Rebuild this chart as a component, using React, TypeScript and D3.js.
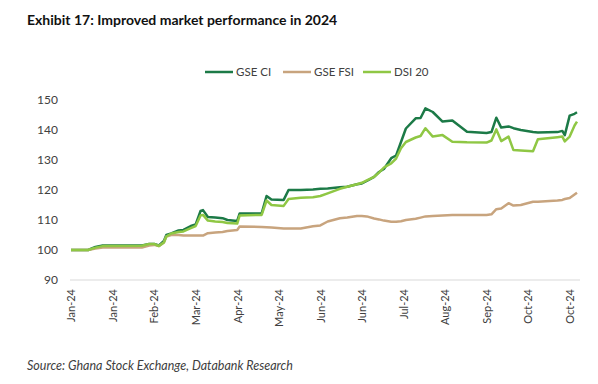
import { useEffect, useRef } from 'react';
import * as d3 from 'd3';

// trading-day index of each sample
const days = [0, 7, 10, 13, 29, 32, 34, 36, 38, 39, 41, 44, 46, 49, 51, 53, 54, 56, 59, 62, 64, 68, 69, 78, 80, 82, 87, 89, 94, 99, 102, 105, 110, 113, 117, 119, 121, 124, 126, 128, 131, 133, 135, 137, 141, 143, 145, 148, 152, 156, 162, 170, 172, 174, 176, 179, 181, 184, 189, 191, 199, 201, 202, 204, 206, 207];

const gseCi = [100, 100, 101, 101.5, 101.5, 102, 102, 101.5, 103, 105, 105.5, 106.5, 106.7, 108, 108.5, 113, 113.3, 111, 110.8, 110.6, 110, 109.7, 112.2, 112.2, 118, 116.8, 116.7, 120, 120, 120.2, 120.4, 120.5, 120.9, 121.1, 121.9, 122.2, 123, 124.4, 126, 127, 130.6, 131.5, 136, 140.5, 143.9, 144, 147.2, 146, 142.8, 143.2, 139.4, 139, 139.3, 144.1, 140.8, 141.2, 140.6, 140, 139.3, 139.2, 139.3, 139.7, 138.3, 144.8, 145.4, 145.9];

const gseFsi = [100, 100, 100.5, 100.8, 100.8, 101.5, 101.7, 101.3, 102.5, 104.5, 105, 105, 104.8, 104.8, 104.8, 104.8, 104.8, 105.6, 105.8, 106, 106.3, 106.7, 107.8, 107.7, 107.6, 107.5, 107.2, 107.2, 107.2, 107.9, 108.2, 109.5, 110.6, 110.8, 111.3, 111.3, 111.2, 110.5, 110.2, 109.8, 109.4, 109.4, 109.6, 110, 110.4, 110.8, 111.2, 111.3, 111.5, 111.7, 111.7, 111.7, 111.9, 113.6, 113.8, 115.6, 114.8, 115, 116.1, 116.1, 116.5, 116.7, 117, 117.3, 118.5, 119.1];

const dsi20 = [100, 100, 100.8, 101.3, 101.4, 102, 102, 101.3, 102.5, 104.5, 105.5, 106, 106.2, 107.3, 108, 111.5, 111.7, 109.8, 109.5, 109.3, 109, 108.8, 111.5, 111.7, 116.5, 115, 114.7, 117, 117.4, 117.6, 118, 118.9, 120.4, 121.1, 121.9, 122.4, 123.2, 124.4, 125.8, 127.5, 128.9, 130.5, 133.9, 136, 137.5, 138, 140.6, 137.8, 138.3, 136.1, 135.9, 135.8, 136.5, 140.2, 136.3, 137.8, 133.3, 133.2, 132.9, 136.9, 137.6, 137.8, 136.2, 137.8, 141.5, 142.8];

const tickDays = [0, 17, 34, 51, 68, 85, 102, 119, 136, 153, 170, 187, 204];
const tickLabels = ['Jan-24', 'Jan-24', 'Feb-24', 'Mar-24', 'Apr-24', 'May-24', 'Jun-24', 'Jun-24', 'Jul-24', 'Aug-24', 'Sep-24', 'Oct-24', 'Oct-24'];
const yTicks = [90, 100, 110, 120, 130, 140, 150];

const seriesNames = ['GSE CI', 'GSE FSI', 'DSI 20'];
const seriesColors = ['#1c7a47', '#c8a47e', '#8fc744'];

const FONT = 'Lato, "Open Sans", sans-serif';

export default function App() {
    const ref = useRef<SVGSVGElement>(null);

    useEffect(() => {
        const svg = d3.select(ref.current);
        svg.selectAll('*').remove();

        const x = d3.scaleLinear().domain([0, 207]).range([71, 577]);
        const y = d3.scaleLinear().domain([90, 150]).range([280, 100]);

        // Title
        svg.append('text')
            .attr('x', 27).attr('y', 25)
            .attr('font-family', FONT).attr('font-weight', 700)
            .attr('font-size', 14).attr('fill', '#111')
            .text('Exhibit 17: Improved market performance in 2024');

        // Legend
        const legendX = [205, 283, 363];
        seriesNames.forEach((name, i) => {
            const g = svg.append('g').attr('transform', `translate(${legendX[i]},72)`);
            g.append('line')
                .attr('x1', 0).attr('x2', 28)
                .attr('stroke', seriesColors[i]).attr('stroke-width', 2.5);
            g.append('text')
                .attr('x', 31).attr('y', 4)
                .attr('font-family', FONT).attr('font-size', 11.5).attr('fill', '#404040')
                .text(name);
        });

        // Baseline
        svg.append('line')
            .attr('x1', 70).attr('x2', 580)
            .attr('y1', y(90)).attr('y2', y(90))
            .attr('stroke', '#d9d9d9').attr('stroke-width', 1);

        // Y axis
        const yAxis = svg.append('g')
            .attr('transform', 'translate(58,0)')
            .call(d3.axisLeft(y).tickValues(yTicks).tickSize(0).tickPadding(0));
        yAxis.select('.domain').remove();
        yAxis.selectAll('text')
            .attr('font-family', FONT).attr('font-size', 12).attr('fill', '#404040');

        // X axis
        const xAxis = svg.append('g')
            .attr('transform', `translate(0,${y(90)})`)
            .call(d3.axisBottom(x).tickValues(tickDays).tickSize(0)
                .tickFormat((d, i) => tickLabels[i]));
        xAxis.select('.domain').remove();
        xAxis.selectAll('text')
            .attr('font-family', FONT).attr('font-size', 11).attr('fill', '#404040')
            .attr('text-anchor', 'end')
            .attr('dy', '0.35em')
            .attr('transform', 'translate(0,9) rotate(-90)')
            .attr('x', 0).attr('y', 0);

        // Lines
        const line = d3.line<number>()
            .x((d, i) => x(days[i]))
            .y(d => y(d));

        [gseCi, gseFsi, dsi20].forEach((values, i) => {
            svg.append('path')
                .datum(values)
                .attr('fill', 'none')
                .attr('stroke', seriesColors[i])
                .attr('stroke-width', 2.5)
                .attr('stroke-linejoin', 'round')
                .attr('d', line);
        });

        // Source
        svg.append('text')
            .attr('x', 27).attr('y', 370)
            .attr('font-family', FONT).attr('font-style', 'italic')
            .attr('font-size', 12.5).attr('fill', '#404040')
            .text('Source: Ghana Stock Exchange, Databank Research');
    }, []);

    return (
        <svg
            ref={ref}
            width={598}
            height={384}
            style={{ position: 'absolute', left: 0, top: 0, background: '#fff' }}
        ></svg>
    );
}
